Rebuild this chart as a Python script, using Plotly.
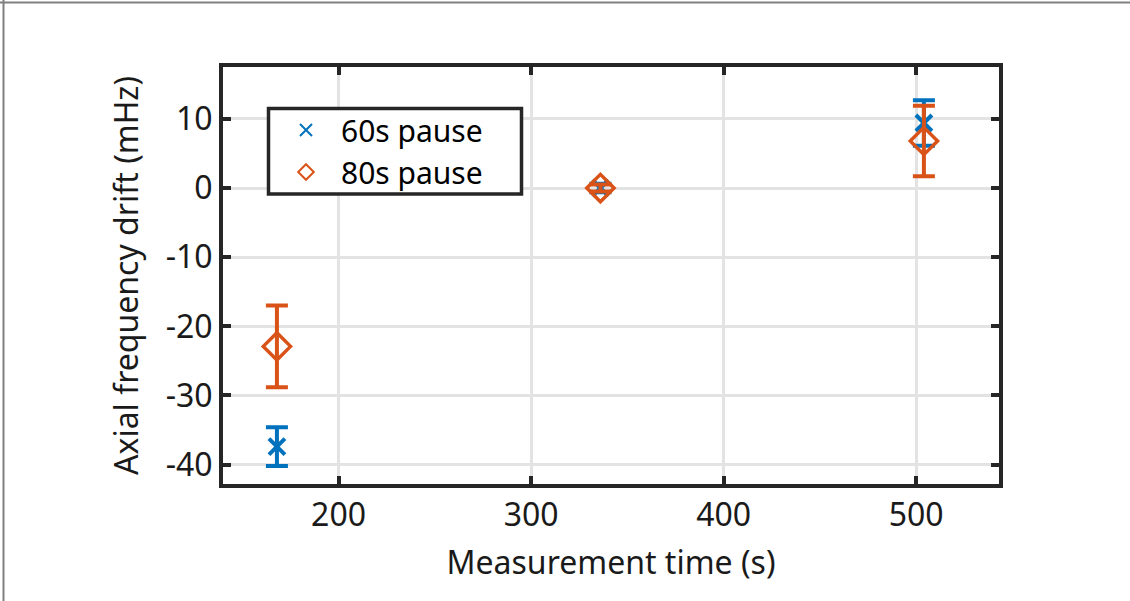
import plotly.graph_objects as go

# Data
times = [168, 336, 504]
drift_60 = [-37.4, 0.0, 9.4]
err_60 = [2.8, 0.6, 3.3]
drift_80 = [-22.9, 0.0, 6.8]
err_80 = [5.9, 0.5, 5.1]

x_tickvals = [200, 300, 400, 500]
x_ticktext = ["200", "300", "400", "500"]
y_tickvals = [-40, -30, -20, -10, 0, 10]
y_ticktext = ["-40", "-30", "-20", "-10", "0", "10"]

BLUE = "#0072BD"
ORANGE = "#D95319"
AX = "#262626"
FONT = "Noto Sans"

fig = go.Figure()
fig.add_trace(go.Scatter(
    x=times, y=drift_60, mode="markers", name="60s pause",
    marker=dict(symbol="x-thin-open", size=16, color=BLUE, line=dict(color=BLUE, width=4)),
    error_y=dict(type="data", array=err_60, color=BLUE, thickness=4, width=11),
))
fig.add_trace(go.Scatter(
    x=times, y=drift_80, mode="markers", name="80s pause",
    marker=dict(symbol="diamond-open", size=21, color=ORANGE, line=dict(color=ORANGE, width=3.5)),
    error_y=dict(type="data", array=err_80, color=ORANGE, thickness=4, width=11),
))

L, R, T, B = 223, 999, 67, 484
W, H = 1130, 601
pw, ph = R - L, B - T

def px(x):
    return (x - L) / pw

def py(y):
    return (B - y) / ph

shapes = [
    dict(type="line", xref="paper", yref="paper", x0=px(0), x1=px(W), y0=py(2.5), y1=py(2.5),
         line=dict(color="#808080", width=2)),
    dict(type="line", xref="paper", yref="paper", x0=px(3.5), x1=px(3.5), y0=py(0), y1=py(H),
         line=dict(color="#808080", width=2)),
    # legend box
    dict(type="rect", xref="paper", yref="paper", layer="above",
         x0=px(268.5), x1=px(521.5), y0=py(108.5), y1=py(194),
         fillcolor="white", line=dict(color=AX, width=3.5)),
]

axis_common = dict(
    showline=True, linecolor=AX, linewidth=4, mirror="ticks",
    ticks="inside", ticklen=8, tickwidth=3.5, tickcolor=AX,
    showgrid=True, gridcolor="#e3e3e3", gridwidth=3,
    zeroline=False,
    tickfont=dict(family=FONT, size=32, color="#1a1a1a"),
)

fig.update_layout(
    width=W, height=H,
    margin=dict(l=L, r=W - R, t=T, b=H - B),
    paper_bgcolor="white", plot_bgcolor="white",
    font=dict(family=FONT, color="#1a1a1a"),
    xaxis=dict(range=[140, 543], tickvals=x_tickvals, ticktext=x_ticktext,
               title=dict(text="Measurement time (s)", font=dict(family=FONT, size=32), standoff=18),
               **axis_common),
    yaxis=dict(range=[-42.8, 17.5], tickvals=y_tickvals, ticktext=y_ticktext,
               title=dict(text="Axial frequency drift (mHz)", font=dict(family=FONT, size=32), standoff=18),
               **axis_common),
    legend=dict(x=px(271), y=py(104), xanchor="left", yanchor="top",
                bgcolor="rgba(0,0,0,0)", borderwidth=0,
                font=dict(family=FONT, size=30, color="black"),
                itemwidth=60, itemsizing="constant"),
    shapes=shapes,
    showlegend=True,
)

fig.write_html("out.html")
